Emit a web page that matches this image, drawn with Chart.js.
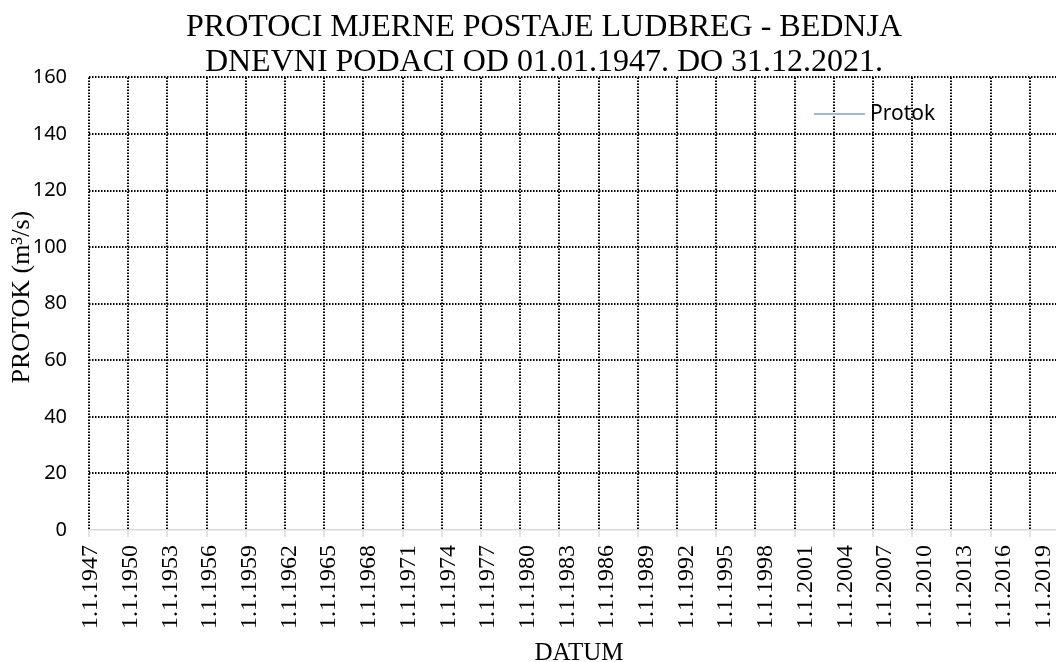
<!DOCTYPE html>
<html>
<head>
<meta charset="utf-8">
<script src="https://cdn.jsdelivr.net/npm/chart.js@4.4.1/dist/chart.umd.min.js"></script>
<style>
    html, body { margin: 0; padding: 0; overflow: hidden; background: #fff; }
    #wrap { position: absolute; left: 0; top: 0; }
</style>
</head>
<body>
<div id="wrap"><canvas id="protokChart" width="1126" height="662"></canvas></div>
<script>
// podaci (serija je na slici prazna)
const datumi = [];
const protok = [];

// oznake osi
const xTickYears = [1947, 1950, 1953, 1956, 1959, 1962, 1965, 1968, 1971, 1974, 1977, 1980, 1983,
    1986, 1989, 1992, 1995, 1998, 2001, 2004, 2007, 2010, 2013, 2016, 2019];
const xMin = 1947;
const xMax = 2022;
// Excel oznake datuma malo "bježe" od mreže, zato posebna os za tekst
const xLabelMin = 1946.85;
const xLabelMax = 2020.91;
const yTicks = [0, 20, 40, 60, 80, 100, 120, 140, 160];

const naslov = ['PROTOCI MJERNE POSTAJE LUDBREG - BEDNJA', 'DNEVNI PODACI OD 01.01.1947. DO 31.12.2021.'];

// točkasta mreža, puni rub osi
const dots = c => c.type === 'tick' ? [1.5, 1.5] : [];

// legenda kao u Excelu
const legendPlugin = {
    id: 'excelLegend',
    afterDraw(chart) {
        const ctx = chart.ctx;
        const ds = chart.data.datasets[0];
        ctx.save();
        ctx.strokeStyle = ds.borderColor;
        ctx.lineWidth = 2;
        ctx.beginPath();
        ctx.moveTo(814, 114);
        ctx.lineTo(865, 114);
        ctx.stroke();
        ctx.fillStyle = '#000';
        ctx.font = '21px "Noto Sans"';
        ctx.textBaseline = 'middle';
        ctx.fillText(ds.label, 870, 114);
        ctx.restore();
    }
};

const ctx = document.getElementById('protokChart').getContext('2d');
new Chart(ctx, {
    type: 'line',
    data: {
        datasets: [{
            label: 'Protok',
            data: datumi.map((d, i) => ({ x: d, y: protok[i] })),
            borderColor: '#9db8db',
            borderWidth: 1,
            pointRadius: 0
        }]
    },
    options: {
        responsive: false,
        animation: false,
        devicePixelRatio: 1,
        layout: { padding: { left: 19, right: 57, top: 0, bottom: 0 } },
        plugins: {
            legend: { display: false },
            tooltip: { enabled: false },
            title: {
                display: true,
                text: naslov,
                color: '#000',
                font: { family: '"Liberation Serif"', size: 32, weight: 'normal', lineHeight: 1.1 },
                padding: { top: 10, bottom: -3 }
            }
        },
        scales: {
            x: {
                type: 'linear',
                position: 'bottom',
                min: xMin,
                max: xMax,
                afterBuildTicks: axis => { axis.ticks = xTickYears.map(v => ({ value: v })); },
                ticks: { display: false },
                grid: {
                    color: '#000',
                    lineWidth: 2,
                    drawTicks: true,
                    tickLength: 7,
                    tickColor: '#d9d9d9',
                    tickBorderDash: [],
                    tickWidth: 1.5
                },
                border: { display: true, color: '#d9d9d9', width: 1.5, dash: dots }
            },
            xDatum: {
                type: 'linear',
                position: 'bottom',
                min: xLabelMin,
                max: xLabelMax,
                afterBuildTicks: axis => { axis.ticks = xTickYears.map(v => ({ value: v })); },
                ticks: {
                    autoSkip: false,
                    maxRotation: 90,
                    minRotation: 90,
                    padding: 8,
                    color: '#000',
                    font: { family: '"Liberation Serif"', size: 24 },
                    callback: v => '1.1.' + v
                },
                grid: { display: false, drawTicks: false },
                border: { display: false },
                title: {
                    display: true,
                    text: 'DATUM',
                    color: '#000',
                    font: { family: '"Liberation Serif"', size: 25, lineHeight: 1 },
                    padding: { top: 4, bottom: -4 }
                }
            },
            y: {
                min: 0,
                max: 160,
                afterBuildTicks: axis => { axis.ticks = yTicks.map(v => ({ value: v })); },
                ticks: {
                    padding: 22,
                    color: '#000',
                    font: { family: '"Noto Sans"', size: 20 }
                },
                grid: {
                    color: c => (c.tick && c.tick.value === 0) ? 'rgba(0,0,0,0)' : '#000',
                    lineWidth: 2,
                    drawTicks: false
                },
                border: { display: false, dash: dots },
                title: {
                    display: true,
                    text: '\u2002PROTOK (m³/s)',
                    color: '#000',
                    font: { family: '"Liberation Serif"', size: 26, lineHeight: 1.2 },
                    padding: { top: -12.6, bottom: -26.9 }
                }
            }
        }
    },
    plugins: [legendPlugin]
});
</script>
</body>
</html>
